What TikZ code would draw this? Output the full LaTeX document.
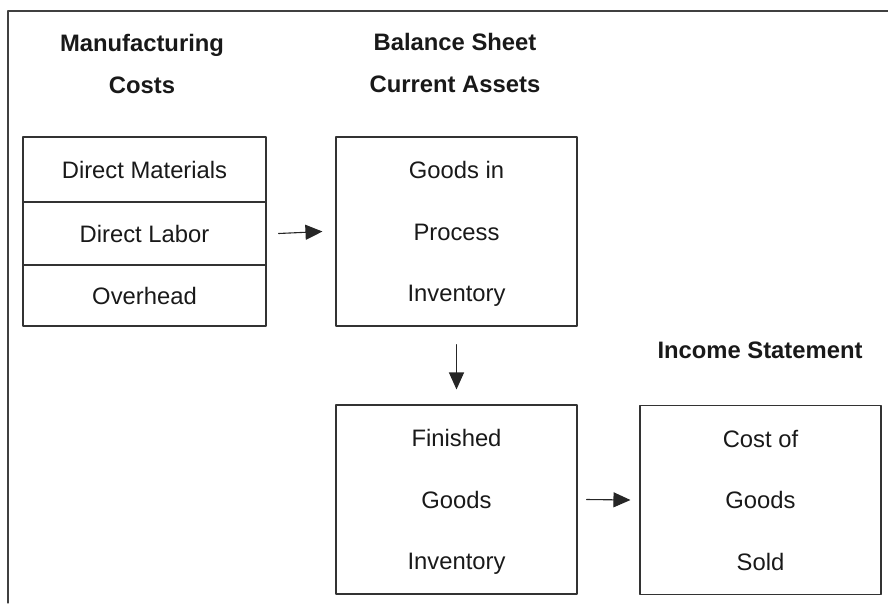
\documentclass[tikz,border=0pt]{standalone}
\usepackage{fontspec}
\setmainfont{Liberation Sans}
\usetikzlibrary{arrows.meta}
\newcommand{\boxfont}{\fontsize{23.8}{61.5}\selectfont}
\newcommand{\headfont}{\fontsize{23.8}{42}\selectfont\bfseries}

\begin{document}
\begin{tikzpicture}[line cap=round,line join=round,>={Triangle[length=17pt,width=15pt]},x=1pt,y=-1pt,
	box/.style={draw=black!80,line width=1.1pt,minimum width=241pt,minimum height=189pt,inner sep=0pt,text depth=0pt,align=center,text=black!90,font=\boxfont},
	row/.style={draw=black!80,line width=1.1pt,minimum width=243pt,inner sep=0pt,text=black!90,font=\boxfont},
	head/.style={inner sep=0pt,align=center,text=black!90,font=\headfont},
	flow/.style={->,line width=1.1pt,color=black!85}]
	\useasboundingbox (0,0) rectangle (888,603);
	\draw [line width=1.2pt,color=black!75] (8,603)-- (8,11)-- (888,11);
	% headings
	\node [head] (mc) at (142,63.5) {Manufacturing\\Costs};
	\node [head] (bs) at (455,62.5) {Balance Sheet\\Current Assets};
	\node [head] (is) at (760,350) {Income Statement};
	% manufacturing costs
	\node [row,minimum height=65pt] (dm) at (144.5,169.5) {Direct Materials};
	\node [row,minimum height=63pt] (dl) at (144.5,233.5) {Direct Labor};
	\node [row,minimum height=61pt] (oh) at (144.5,295.5) {Overhead};
	% inventories
	\node [box] (gip) at (456.5,231.5) {Goods in\\Process\\Inventory};
	\node [box] (fgi) at (456.5,499.5) {Finished\\Goods\\Inventory};
	\node [box] (cogs) at (760.5,500) {Cost of\\Goods\\Sold};
	% flow
	\draw [flow] ([xshift=12pt]dl.east)-- ([xshift=-13pt]gip.west);
	\draw [flow] ([yshift=-18pt]gip.south)-- ([yshift=15pt]fgi.north);
	\draw [flow] ([xshift=9pt]fgi.east)-- ([xshift=-9pt]cogs.west);
\end{tikzpicture}
\end{document}
